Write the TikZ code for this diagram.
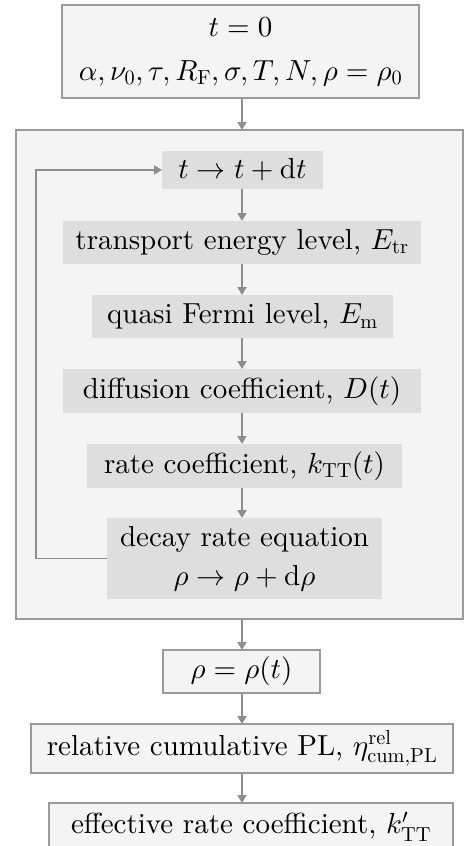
\documentclass[tikz,border=0pt]{standalone}
\usepackage{fontspec}
\setmainfont{lmroman10-regular}[Extension=.otf]
\DeclareFontShape{OML}{cmm}{m}{it}{<->cmmi10}{}
\DeclareFontShape{OMS}{cmsy}{m}{n}{<->cmsy10}{}
\DeclareFontShape{OT1}{cmr}{m}{n}{<->cmr10}{}
\usetikzlibrary{arrows.meta}
\definecolor{lgray}{HTML}{F4F4F4}
\definecolor{mgray}{HTML}{DEDEDE}
\definecolor{bgray}{HTML}{9A9A9A}
\definecolor{agray}{HTML}{8E8E8E}
\begin{document}
\begin{tikzpicture}[x=1pt,y=-1pt,
  framebox/.style={draw=bgray, fill=lgray, line width=1.6pt, inner sep=0pt, outer sep=0pt, align=center},
  stepbox/.style={fill=mgray, inner sep=0pt, outer sep=0pt, align=center},
  arr/.style={draw=agray, line width=2.4pt, -{Triangle[length=8pt,width=9pt]}},
  loopline/.style={draw=agray, line width=1.8pt, -{Triangle[length=8pt,width=9pt]}},
  every node/.style={font=\fontsize{29}{35}\selectfont}]
\useasboundingbox (0,0) rectangle (464,846);
\node[framebox, minimum width=357pt, minimum height=93pt] (top) at (240.5,51.5)
  {$t=0$\\[9pt]$\alpha,\nu_0,\tau,R_{\mathrm{F}},\sigma,T,N,\rho=\rho_0$};
\node[framebox, minimum width=447pt, minimum height=489pt] (outer) at (239.5,374.5) {};
\node[stepbox, minimum width=161pt, minimum height=38pt] (tstep) at (242.5,170) {$t\rightarrow t+\mathrm{d}t$};
\node[stepbox, minimum width=358pt, minimum height=43pt] (transp) at (242,242.5) {transport energy level, $E_{\mathrm{tr}}$};
\node[stepbox, minimum width=301pt, minimum height=43pt] (fermi) at (242.5,316.5) {quasi Fermi level, $E_{\mathrm{m}}$};
\node[stepbox, minimum width=358pt, minimum height=44pt] (diff) at (242,391) {diffusion coefficient, $D(t)$};
\node[stepbox, minimum width=315pt, minimum height=44pt] (rate) at (244.5,466) {rate coefficient, $k_{\mathrm{TT}}(t)$};
\node[stepbox, minimum width=275pt, minimum height=81pt] (decay) at (244.5,558.5)
  {decay rate equation\\[4pt]$\rho\rightarrow\rho+\mathrm{d}\rho$};
\node[framebox, minimum width=157pt, minimum height=43pt] (rho) at (241.5,671.5) {$\rho=\rho(t)$};
\node[framebox, minimum width=422pt, minimum height=49pt] (rel) at (242,748.5) {relative cumulative PL, $\eta^{\mathrm{rel}}_{\mathrm{cum,PL}}$};
\node[framebox, minimum width=404pt, minimum height=50pt, anchor=north] (eff) at (251,803) {effective rate coefficient, $k'_{\mathrm{TT}}$\rule[-10pt]{0pt}{6pt}};
\coordinate (ax) at (242,0);
\coordinate (loopx) at (36,0);
\draw[arr] (ax |- top.south) -- (ax |- outer.north);
\draw[arr] (ax |- tstep.south) -- (ax |- transp.north);
\draw[arr] (ax |- transp.south) -- (ax |- fermi.north);
\draw[arr] (ax |- fermi.south) -- (ax |- diff.north);
\draw[arr] (ax |- diff.south) -- (ax |- rate.north);
\draw[arr] (ax |- rate.south) -- (ax |- decay.north);
\draw[arr] (ax |- outer.south) -- (ax |- rho.north);
\draw[arr] (ax |- rho.south) -- (ax |- rel.north);
\draw[arr] (ax |- rel.south) -- (ax |- eff.north);
\draw[loopline] (decay.west) -- (loopx |- decay.west) -- (loopx |- tstep.west) -- (tstep.west);
\end{tikzpicture}
\end{document}
